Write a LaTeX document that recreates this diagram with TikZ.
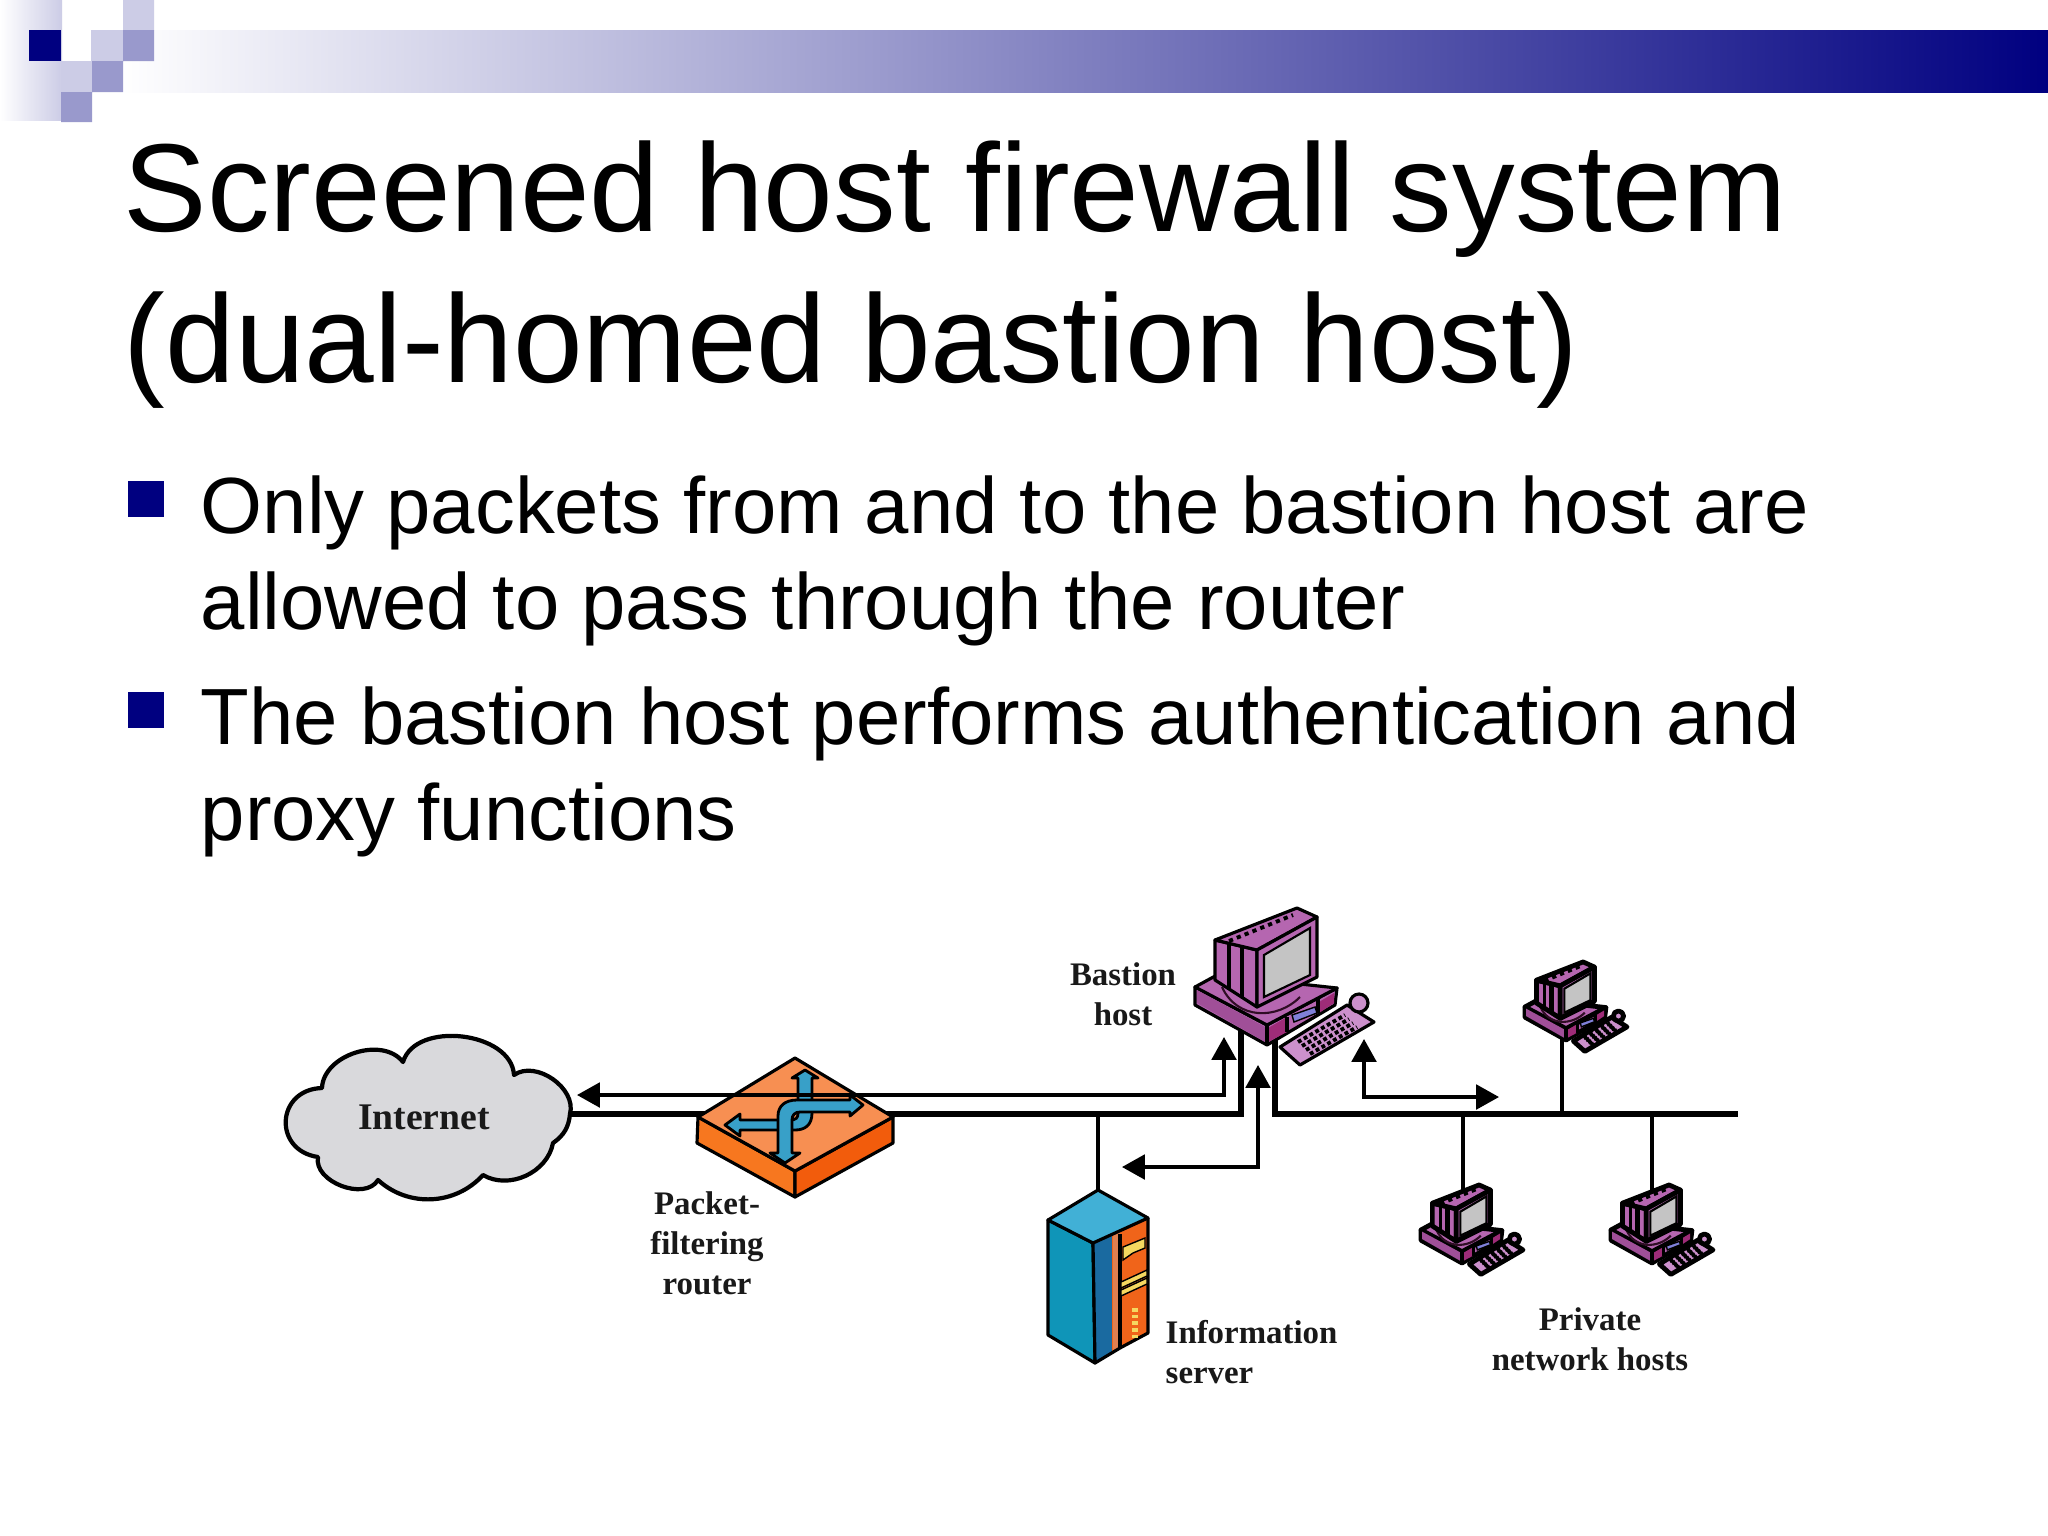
\documentclass[tikz,border=0pt]{standalone}
\usepackage{fontspec}
\setmainfont{Liberation Sans}
\newfontfamily\labelfont{Liberation Serif}[BoldFont={* Bold}]
\usetikzlibrary{arrows.meta}
\definecolor{navyblue}{HTML}{000080}
\definecolor{squarelight}{HTML}{CCCCE6}
\definecolor{squaremid}{HTML}{9999CC}
\definecolor{cloudgrey}{HTML}{D9D9DC}
\definecolor{routertop}{HTML}{F78F52}
\definecolor{routerleft}{HTML}{F7771F}
\definecolor{routerright}{HTML}{F25C0C}
\definecolor{flowblue}{HTML}{38A0C8}
\definecolor{pcface}{HTML}{B566B0}
\definecolor{pcdark}{HTML}{A04F98}
\definecolor{pcpanel}{HTML}{9E2C78}
\definecolor{pckeys}{HTML}{CC90CC}
\definecolor{screengrey}{HTML}{C4C4C4}
\definecolor{servertop}{HTML}{41B0D6}
\definecolor{serverleft}{HTML}{0F95B8}
\definecolor{serverright}{HTML}{1A6AA0}
\definecolor{serverorange}{HTML}{F0641A}
\definecolor{serverstrip}{HTML}{E08050}
\definecolor{serveryellow}{HTML}{F5D860}
\tikzset{>={Triangle[length=6.5,width=7]}}
\tikzset{
  bus/.style={line width=1.45pt,black},
  drop/.style={line width=0.95pt,black},
  twoway/.style={<->,line width=0.95pt,black},
  tag/.style={font=\labelfont\bfseries\fontsize{9.35}{11.4}\selectfont,align=center,inner sep=0pt,text=black!90},
  bullet/.style={fill=navyblue,inner sep=0pt,minimum size=10.4pt},
  headtext/.style={anchor=north west,align=left,inner sep=0pt},
  outline/.style={draw=black,line width=0.9pt,line join=round},
  flowarrow/.style={draw=black,line width=0.8pt,line join=round,fill=flowblue},
  smallhost/.style={scale=0.57,outline/.append style={line width=1.35pt}},
  pics/workstation/.style={code={
    \fill[outline,fill=pckeys] (13,2) -- (80,-40) -- (107,-23) -- (33,20) -- cycle; % keyboard
    \foreach \row in {0,1,2,3}{
      \draw[black,line width=1.1pt,dash pattern=on 1.1pt off 0.8pt]
        ({31+\row*4},{-3+\row*4}) -- ({78+\row*4},{-30+\row*4});
    }
    \fill[outline,fill=pcface] (-72,-58) -- (0,-20) -- (70,-57) -- (68,-40) -- (0,0) -- (-72,-40) -- cycle; % base
    \fill[outline,fill=pcface] (-72,-58) -- (-50,-70) -- (70,-57) -- (0,-20) -- cycle;
    \fill[pcdark] (-70,-55) -- (0,-17) -- (0,-2) -- (-70,-42) -- cycle;
    \fill[pcpanel] (1,-17) -- (20,-28) -- (20,-13) -- (1,-3) -- cycle;
    \fill[pcpanel] (52,-43) -- (67,-52) -- (67,-42) -- (52,-32) -- cycle;
    \fill[draw=black,line width=0.4pt,fill=black!30!blue!50!white] (25,-30) -- (48,-38) -- (50,-32) -- (27,-23) -- cycle;
    \draw[black,line width=0.9pt] (0,-20) -- (0,0) (20,-28) -- (20,-13) (51,-47) -- (51,-32);
    \draw[black!70!pcpanel,line width=0.6pt] (-45,-58) .. controls (-30,-25) and (10,-25) .. (33,-48); % stand
    \fill[outline,fill=pcface] (-52,-105) -- (-10,-95) -- (-10,-38) -- (-52,-65) -- cycle; % cabinet
    \fill[outline,fill=pcface] (-52,-105) -- (30,-137) -- (50,-128) -- (-10,-95) -- cycle;
    \fill[outline,fill=pcface] (-10,-95) -- (50,-128) -- (50,-68) -- (-10,-38) -- cycle;
    \fill[draw=black,line width=0.6pt,fill=screengrey] (-3,-90) -- (43,-117) -- (43,-70) -- (-3,-48) -- cycle;
    \draw[black,line width=0.9pt] (-38,-102) -- (-38,-56);
    \draw[black,line width=1.3pt] (-25,-99) -- (-25,-48);
    \draw[black,line width=1.1pt,dash pattern=on 1.2pt off 1.2pt] (-38,-104) -- (26,-130);
    \fill[outline,fill=pckeys] (92,-42) circle (9); % mouse
  }}
}

\begin{document}
\begin{tikzpicture}[x=0.01cm,y=-0.01cm]
  \useasboundingbox (0,0) rectangle (2048,1536);
  \fill[white] (0,0) rectangle (2048,1536);

  % slide header
  \shade[left color=white,right color=navyblue] (120,30) rectangle (2048,92);
  \shade[left color=white,right color=squarelight] (0,0) rectangle (62,120);
  \fill[navyblue] (29,30) rectangle (61,61);
  \fill[squarelight] (123,0) rectangle (154,30) (91,30) rectangle (123,61) (61,61) rectangle (92,92);
  \fill[squaremid] (123,30) rectangle (154,61) (92,61) rectangle (123,92) (61,92) rectangle (92,122);

  \node[headtext,font=\fontsize{35.6}{43}\selectfont] (title) at (123,140)
    {Screened host firewall system\\(dual-homed bastion host)};
  \node[bullet] (mark1) at (146,499) {};
  \node[bullet] (mark2) at (146,710) {};
  \node[headtext,font=\fontsize{22.66}{27.3}\selectfont] (point1) at (200,475)
    {Only packets from and to the bastion host are\\allowed to pass through the router};
  \node[headtext,font=\fontsize{22.66}{27.3}\selectfont] (point2) at (200,686)
    {The bastion host performs authentication and\\proxy functions};

  % network points
  \coordinate (cloudport) at (570,1114);
  \coordinate (legleft) at (1241,1114);
  \coordinate (legleftup) at (1241,1030);
  \coordinate (legright) at (1275,1114);
  \coordinate (legrightup) at (1275,1035);
  \coordinate (busend) at (1738,1114);
  \coordinate (servertap) at (1098,1114);
  \coordinate (servertop) at (1098,1190);
  \coordinate (hostup) at (1562,1114);
  \coordinate (hostupfoot) at (1562,1030);
  \coordinate (hostone) at (1463,1114);
  \coordinate (hostonetop) at (1463,1190);
  \coordinate (hosttwo) at (1652,1114);
  \coordinate (hosttwotop) at (1652,1190);

  % the wires go under the boxes
  \draw[bus] (cloudport) -- (legleft) -- (legleftup);
  \draw[bus] (legrightup) -- (legright) -- (busend);
  \draw[drop] (servertap) -- (servertop);
  \draw[drop] (hostup) -- (hostupfoot);
  \draw[drop] (hostone) -- (hostonetop);
  \draw[drop] (hosttwo) -- (hosttwotop);

  % cloud
  \draw[fill=cloudgrey,line width=1.2pt,line join=round] (cloudport)
    to[bend right=70] (514,1075) to[bend right=80] (403,1062)
    to[bend right=70] (322,1088) to[bend right=85,looseness=1.7] (318,1157)
    to[bend right=80] (378,1180) to[bend right=45] (483,1175)
    to[bend right=55] (553,1143) to[bend right=25] (cloudport);
  \node[tag,font=\labelfont\bfseries\fontsize{10.7}{12}\selectfont] (internet) at (424,1117) {Internet};

  % router
  \fill[outline,fill=routerleft] (698,1117) -- (795,1171) -- (795,1197) -- (697,1143) -- cycle;
  \fill[outline,fill=routerright] (893,1117) -- (795,1171) -- (795,1197) -- (893,1143) -- cycle;
  \fill[outline,fill=routertop] (795,1058) -- (893,1117) -- (795,1171) -- (698,1117) -- cycle;
  \draw[flowarrow] (805,1070) -- (818,1078) -- (812,1078) -- (812,1113)
    .. controls (812,1125) and (805,1130) .. (795,1130) -- (740,1130) -- (740,1136)
    -- (725,1125) -- (740,1114) -- (740,1120) -- (790,1120)
    .. controls (796,1120) and (798,1118) .. (798,1113) -- (798,1078) -- (792,1078) -- cycle;
  \draw[flowarrow] (863,1105) -- (850,1116) -- (850,1112) -- (800,1112)
    .. controls (795,1112) and (792,1115) .. (792,1120) -- (792,1153) -- (800,1153)
    -- (785,1163) -- (770,1153) -- (778,1153) -- (778,1116)
    .. controls (778,1106) and (785,1100) .. (797,1100) -- (850,1100) -- (850,1095) -- cycle;
  \node[tag] (router) at (707,1243) {Packet-\\filtering\\router};

  % information server
  \fill[outline,fill=serverleft] (1048,1220) -- (1093,1243) -- (1095,1363) -- (1048,1335) -- cycle;
  \fill[serverright] (1093,1243) -- (1112,1233) -- (1112,1352) -- (1095,1363) -- cycle;
  \fill[serverorange] (1112,1233) -- (1148,1218) -- (1148,1333) -- (1112,1352) -- cycle;
  \fill[serverstrip] (1113,1233) -- (1120,1230) -- (1120,1348) -- (1113,1352) -- cycle;
  \fill[outline,fill=servertop] (1098,1190) -- (1148,1218) -- (1093,1243) -- (1048,1220) -- cycle;
  \draw[outline] (1093,1243) -- (1095,1363) -- (1120,1348) -- (1148,1333) -- (1148,1218);
  \draw[line width=1.1pt] (1120,1234) -- (1120,1348);
  \fill[draw=black,line width=0.4pt,fill=serveryellow] (1123,1247) -- (1145,1238) -- (1145,1248) -- (1133,1253) -- (1123,1260) -- cycle;
  \foreach \shift in {0,8}{
    \fill[draw=black,line width=0.4pt,fill=serveryellow] (1121,{1282+\shift}) -- (1147,{1270+\shift}) -- (1147,{1276+\shift}) -- (1121,{1288+\shift}) -- cycle;
  }
  \draw[serveryellow,line width=1.6pt,dash pattern=on 1pt off 0.9pt] (1135,1308) -- (1135,1340);
  \node[tag,align=left,anchor=west] (server) at (1165,1352) {Information\\server};

  % hosts
  \pic (bastion) at (1267,1045) {workstation};
  \pic[smallhost] (hostA) at (1566,1040) {workstation};
  \pic[smallhost] (hostB) at (1462,1263) {workstation};
  \pic[smallhost] (hostC) at (1652,1263) {workstation};
  \node[tag] (bastionname) at (1123,994) {Bastion\\host};
  \node[tag] (hostsname) at (1590,1339) {Private\\network hosts};

  % traffic through the bastion host
  \coordinate (cloudside) at (577,1095);
  \coordinate (uppercorner) at (1224,1095);
  \coordinate (uppertip) at (1224,1037);
  \coordinate (middletip) at (1258,1065);
  \coordinate (middlecorner) at (1258,1167);
  \coordinate (servertip) at (1122,1167);
  \coordinate (righttip) at (1364,1039);
  \coordinate (rightcorner) at (1364,1097);
  \coordinate (hosttip) at (1499,1097);
  \draw[twoway] (cloudside) -- (uppercorner) -- (uppertip);
  \draw[twoway] (middletip) -- (middlecorner) -- (servertip);
  \draw[twoway] (righttip) -- (rightcorner) -- (hosttip);
\end{tikzpicture}
\end{document}
